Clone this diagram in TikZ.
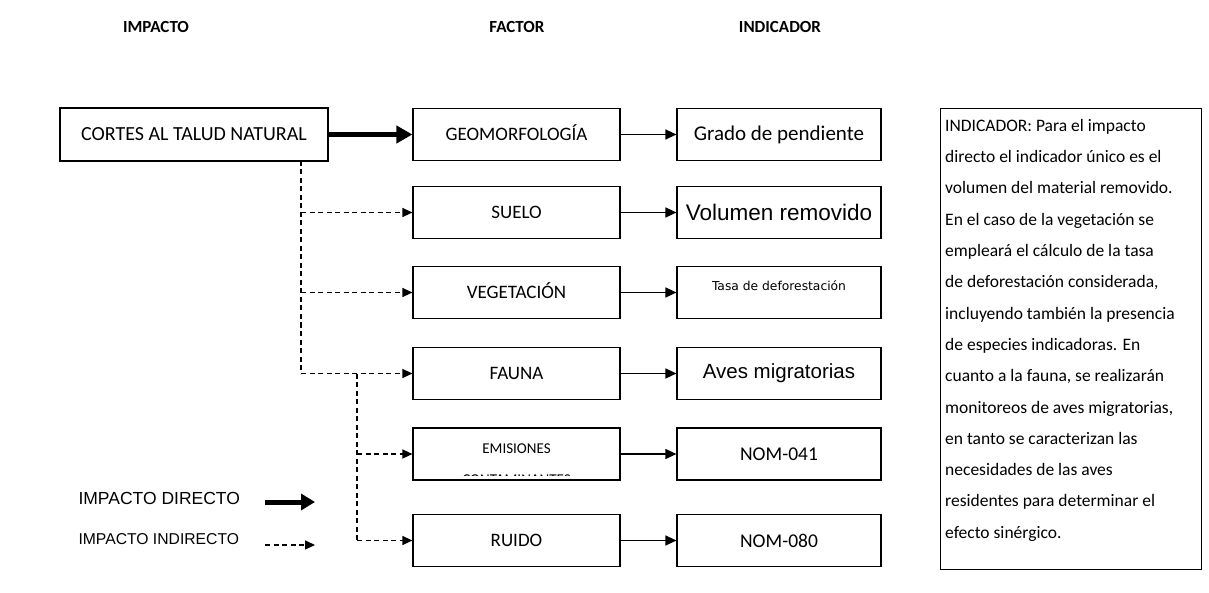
\documentclass[tikz,border=0pt]{standalone}
\usepackage{fontspec}
\setmainfont{Carlito}
\newfontfamily\arialf{Liberation Sans}
\newfontfamily\dejavuf{DejaVu Sans}
\usetikzlibrary{arrows.meta,calc}
\begin{document}
\begin{tikzpicture}[x=1pt,y=-1pt,
  box/.style={draw, line width=1.2pt, inner sep=0pt, minimum height=52pt, font=\fontsize{19}{21}\selectfont},
  impbox/.style={box, minimum width=268pt, minimum height=53pt, font=\fontsize{20}{22}\selectfont, text height=13pt, text depth=0pt},
  facbox/.style={box, minimum width=207pt, text height=12.5pt, text depth=0pt},
  indbox/.style={box, minimum width=204pt},
  header/.style={font=\fontsize{17}{19}\selectfont\bfseries},
  direct/.style={line width=5pt, -{Triangle[length=16pt,width=17pt]}},
  thinarrow/.style={line width=1.4pt, -{Triangle[length=11pt,width=10pt]}},
  indirect/.style={line width=1.3pt, dash pattern=on 5pt off 3.5pt},
  indirectarrow/.style={indirect, -{Triangle[length=10pt,width=9pt]}},
  legtext/.style={anchor=west, font=\arialf\fontsize{17.5}{19}\selectfont},
  emisfont/.style={font=\fontsize{15}{17}\selectfont, anchor=base}
]
\useasboundingbox (0,0) rectangle (1209,593);
% headers
\node[header] (h1) at (156,27) {IMPACTO};
\node[header] (h2) at (517,27) {FACTOR};
\node[header] (h3) at (780,27) {INDICADOR};
% impact
\node[impbox] (cortes) at (194,134.5) {CORTES AL TALUD NATURAL};
% factors
\node[facbox] (geo) at (516.5,134.5) {GEOMORFOLOGÍA};
\node[facbox] (suelo) at (516.5,212.5) {SUELO};
\node[facbox] (veg) at (516.5,292.5) {VEGETACIÓN};
\node[facbox] (fauna) at (516.5,373.5) {FAUNA};
\node[facbox] (emis) at (516.5,454) {};
\node[facbox] (ruido) at (516.5,540.5) {RUIDO};
\begin{scope}
\clip (emis.north west) rectangle ($(emis.south east)+(0,-5)$);
\node[emisfont] (emis1) at (516.5,453) {EMISIONES};
\node[emisfont] (emis2) at (516.5,484) {CONTAMINANTES};
\end{scope}
% indicators
\node[indbox] (i1) at (779,134.5) {\fontsize{21}{23}\selectfont Grado de pendiente};
\node[indbox] (i2) at (779,212.5) {\arialf\fontsize{22.5}{25}\selectfont Volumen removido};
\node[indbox] (i3) at (779,292.5) {};
\node[font=\dejavuf\fontsize{12.3}{14}\selectfont] (i3text) at (779,286) {Tasa de deforestación};
\node[indbox] (i4) at (779,373.5) {\arialf\fontsize{20.5}{23}\selectfont Aves migratorias};
\node[indbox] (i5) at (779,454) {\fontsize{19.5}{22}\selectfont NOM-041};
\node[indbox] (i6) at (779,540.5) {\fontsize{19.5}{22}\selectfont NOM-080};
% connectors
\draw[direct] (cortes.east) -- (geo.west);
\coordinate (va) at (301,161);
\coordinate (vb) at (357,373.5);
\draw[indirect] (va) -- (va |- fauna.west);
\draw[indirectarrow] (va |- suelo.west) -- (suelo.west);
\draw[indirectarrow] (va |- veg.west) -- (veg.west);
\draw[indirectarrow] (va |- fauna.west) -- (fauna.west);
\draw[indirect] (vb) -- (vb |- ruido.west);
\draw[indirectarrow] (vb |- emis.west) -- (emis.west);
\draw[indirectarrow] (vb |- ruido.west) -- (ruido.west);
\foreach \a/\b in {geo/i1,suelo/i2,veg/i3,fauna/i4,emis/i5,ruido/i6}
  \draw[thinarrow] (\a.east) -- (\b.west);
% legend
\node[legtext] (l1) at (75,498) {IMPACTO DIRECTO};
\node[legtext, font=\arialf\fontsize{15.7}{17}\selectfont] (l2) at (75,539) {IMPACTO INDIRECTO};
\coordinate (d1) at (265,502);
\coordinate (d2) at (315,502);
\coordinate (e1) at (265,545);
\coordinate (e2) at (315,545);
\draw[direct, -{Triangle[length=14pt,width=16pt]}] (d1) -- (d2);
\draw[indirectarrow] (e1) -- (e2);
% explanation box
\node[draw, line width=1.2pt, minimum width=261pt, minimum height=461pt, anchor=north west, inner sep=0pt] (expl) at (940,108) {};
\node[anchor=north west, align=left, inner sep=0pt, font=\fontsize{17.5}{31.3}\selectfont] (expltext) at (945,119) {INDICADOR: Para el impacto\\
directo el indicador único es el\\
volumen del material removido.\\
En el caso de la vegetación se\\
empleará el cálculo de la tasa\\
de deforestación considerada,\\
incluyendo también la presencia\\
de especies indicadoras. En\\
cuanto a la fauna, se realizarán\\
monitoreos de aves migratorias,\\
en tanto se caracterizan las\\
necesidades de las aves\\
residentes para determinar el\\
efecto sinérgico.};
\end{tikzpicture}
\end{document}
